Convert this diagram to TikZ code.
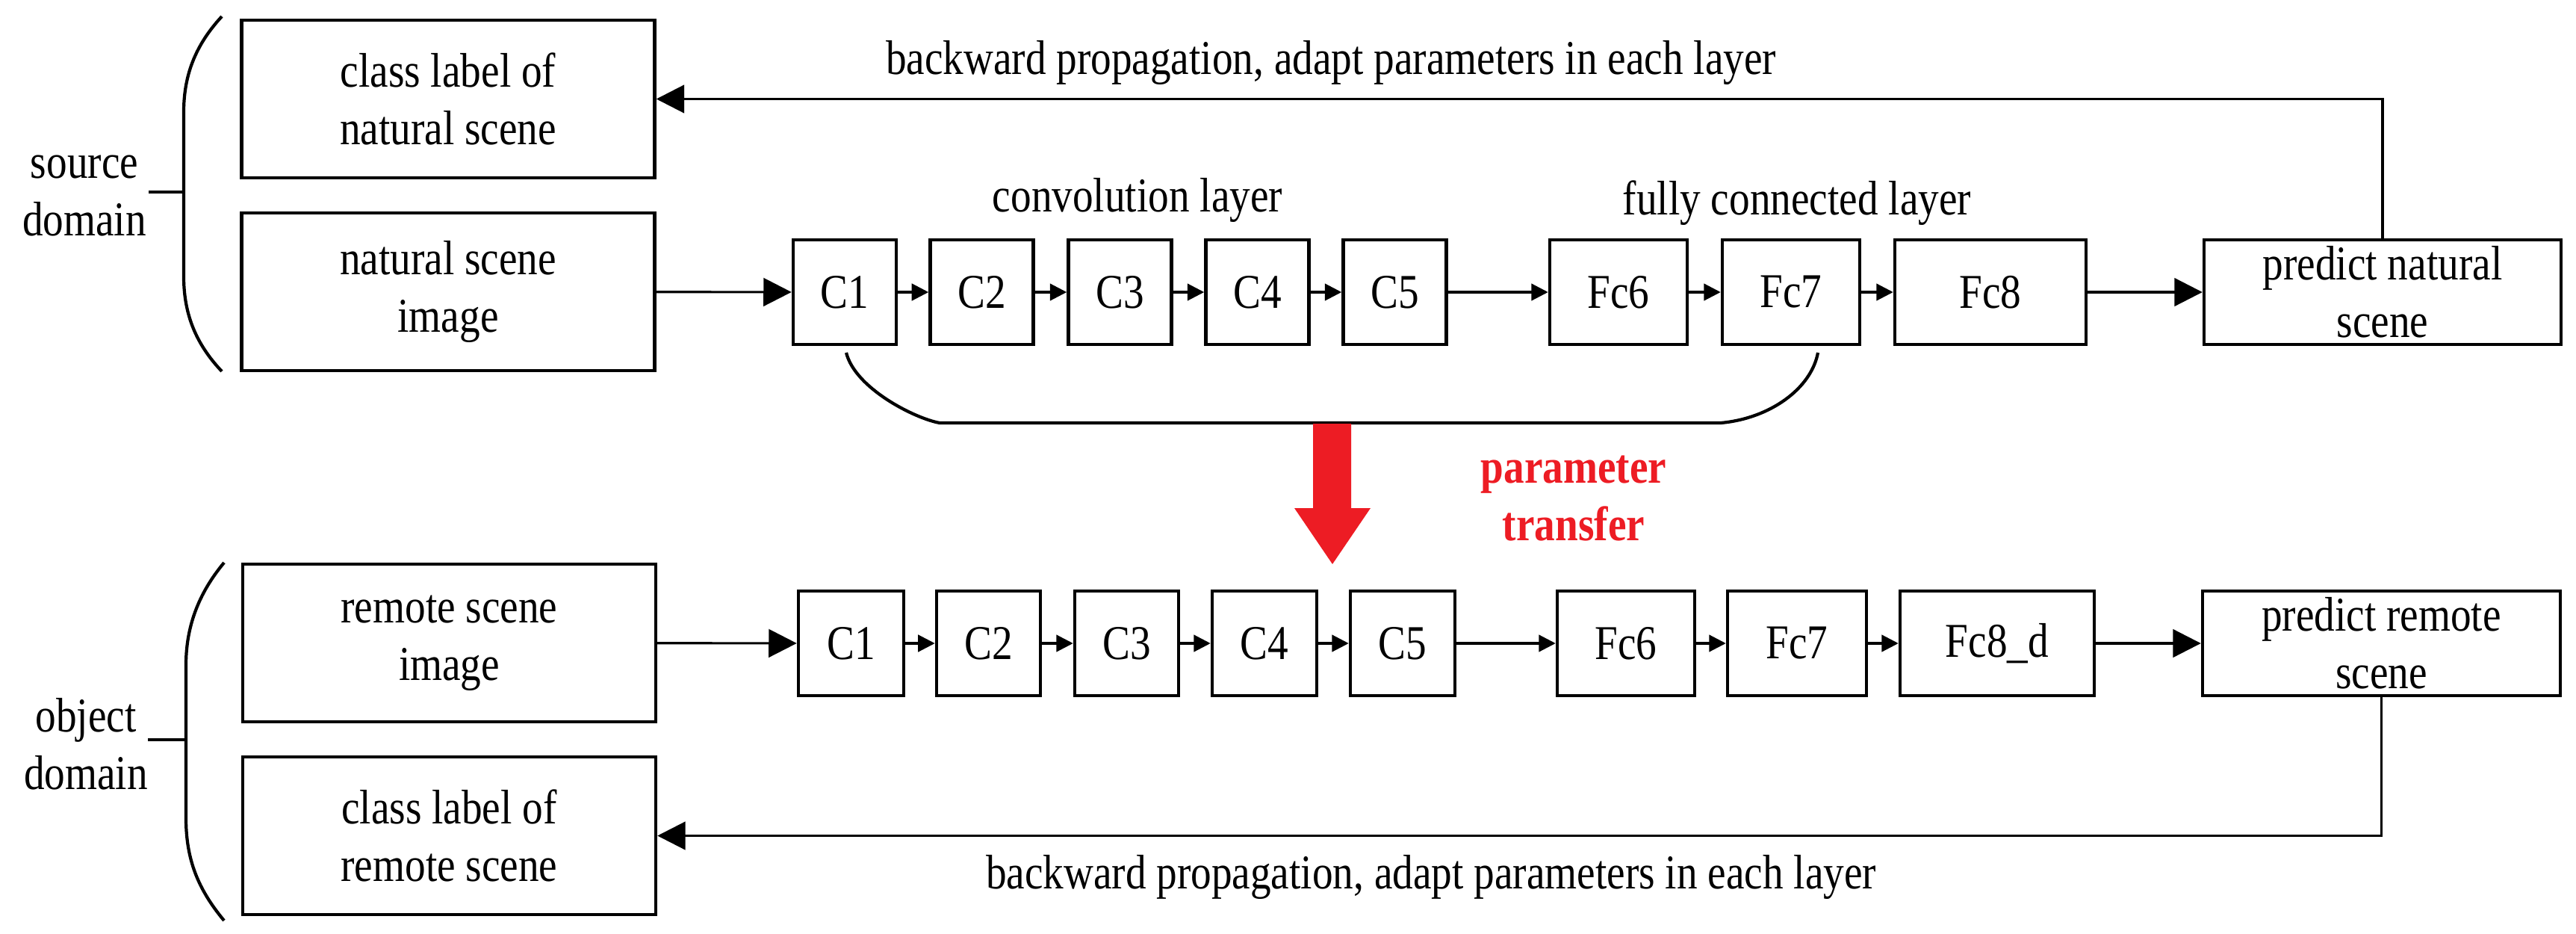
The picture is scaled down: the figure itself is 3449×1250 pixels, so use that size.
\documentclass[tikz,border=0pt]{standalone}
\usepackage{fontspec}
\setmainfont{Liberation Serif}[FakeStretch=0.85]
\usetikzlibrary{arrows.meta}
\definecolor{tred}{RGB}{237,28,36}
\begin{document}
\begin{tikzpicture}[x=0.02cm,y=-0.02cm,
  every node/.style={font=\fontsize{37}{44}\selectfont, align=center, inner sep=0pt},
  box/.style={draw, line width=2.6pt, minimum height=2.8cm},
  big/.style={draw, line width=2.6pt, minimum width=11.06cm, minimum height=4.22cm},
  conn/.style={line width=1.8pt},
  bigtip/.style={conn, -{Triangle[length=0.75cm,width=0.75cm]}},
  smalltip/.style={conn, -{Triangle[length=0.45cm,width=0.45cm]}},
  brace/.style={line width=2.4pt}]
\useasboundingbox (0,0) rectangle (3449,1250);
% top
\node[big] (cln) at (600,132.5) {class label of\\natural scene};
\node[big] (nsi) at (600,390.5) {natural scene\\image};
\node[box, minimum width=2.76cm] (a1) at (1131,391) {C1};
\node[box, minimum width=2.76cm] (a2) at (1314.5,391) {C2};
\node[box, minimum width=2.76cm] (a3) at (1499.5,391) {C3};
\node[box, minimum width=2.76cm] (a4) at (1683.5,391) {C4};
\node[box, minimum width=2.76cm] (a5) at (1867.5,391) {C5};
\node[box, minimum width=3.68cm] (a6) at (2167,391) {Fc6};
\node[box, minimum width=3.68cm] (a7) at (2398,391) {Fc7};
\node[box, minimum width=5.12cm] (a8) at (2665,391) {Fc8};
\node[box, minimum width=9.56cm] (pn) at (3190,391) {predict natural\\scene};
\draw[bigtip] (nsi) -- (a1);
\draw[smalltip] (a1) -- (a2);
\draw[smalltip] (a2) -- (a3);
\draw[smalltip] (a3) -- (a4);
\draw[smalltip] (a4) -- (a5);
\draw[smalltip] (a5) -- (a6);
\draw[smalltip] (a6) -- (a7);
\draw[smalltip] (a7) -- (a8);
\draw[bigtip] (a8) -- (pn);
\draw[bigtip] (pn.north) |- (cln.east);
\node (bt) at (1782,84) {backward propagation, adapt parameters in each layer};
\node (cl) at (1523,268) {convolution layer};
\node (fl) at (2406,272) {fully connected layer};
\draw[brace] (297,22) .. controls (262,60) and (246,100) .. (246,150) -- (246,370) .. controls (246,420) and (262,460) .. (297,497);
\draw[brace] (246,257) -- (199,257);
\node (sd) at (113,262) {source\\domain};
\draw[brace] (1133,472) .. controls (1145,520) and (1225,560) .. (1258,566) -- (2304,566) .. controls (2370,560) and (2425,520) .. (2434,472);
% red arrow
\fill[tred] (1758,567) -- (1809,567) -- (1809,680) -- (1835,680) -- (1784,755) -- (1733,680) -- (1758,680) -- cycle;
\node[text=tred, font=\fontsize{37}{44}\selectfont\bfseries] (pt) at (2107,667) {parameter\\transfer};
% bottom
\node[big] (rsi) at (601.5,860.5) {remote scene\\image};
\node[big] (clr) at (601.5,1118.5) {class label of\\remote scene};
\node[box, minimum width=2.82cm] (b1) at (1139.5,861) {C1};
\node[box, minimum width=2.78cm] (b2) at (1323.5,861) {C2};
\node[box, minimum width=2.78cm] (b3) at (1508.5,861) {C3};
\node[box, minimum width=2.8cm] (b4) at (1693,861) {C4};
\node[box, minimum width=2.8cm] (b5) at (1878,861) {C5};
\node[box, minimum width=3.68cm] (b6) at (2177,861) {Fc6};
\node[box, minimum width=3.72cm] (b7) at (2406,861) {Fc7};
\node[box, minimum width=5.2cm] (b8) at (2674,861) {Fc8\_d};
\node[box, minimum width=9.58cm] (pr) at (3188.5,861) {predict remote\\scene};
\draw[bigtip] (rsi) -- (b1);
\draw[smalltip] (b1) -- (b2);
\draw[smalltip] (b2) -- (b3);
\draw[smalltip] (b3) -- (b4);
\draw[smalltip] (b4) -- (b5);
\draw[smalltip] (b5) -- (b6);
\draw[smalltip] (b6) -- (b7);
\draw[smalltip] (b7) -- (b8);
\draw[bigtip] (b8) -- (pr);
\draw[bigtip] (pr.south) |- (clr.east);
\node (bb) at (1916,1174) {backward propagation, adapt parameters in each layer};
\draw[brace] (300,753) .. controls (265,795) and (249,840) .. (249,890) -- (249,1095) .. controls (249,1150) and (265,1190) .. (300,1232);
\draw[brace] (249,990) -- (198,990);
\node (od) at (115,996) {object\\domain};
\end{tikzpicture}
\end{document}
